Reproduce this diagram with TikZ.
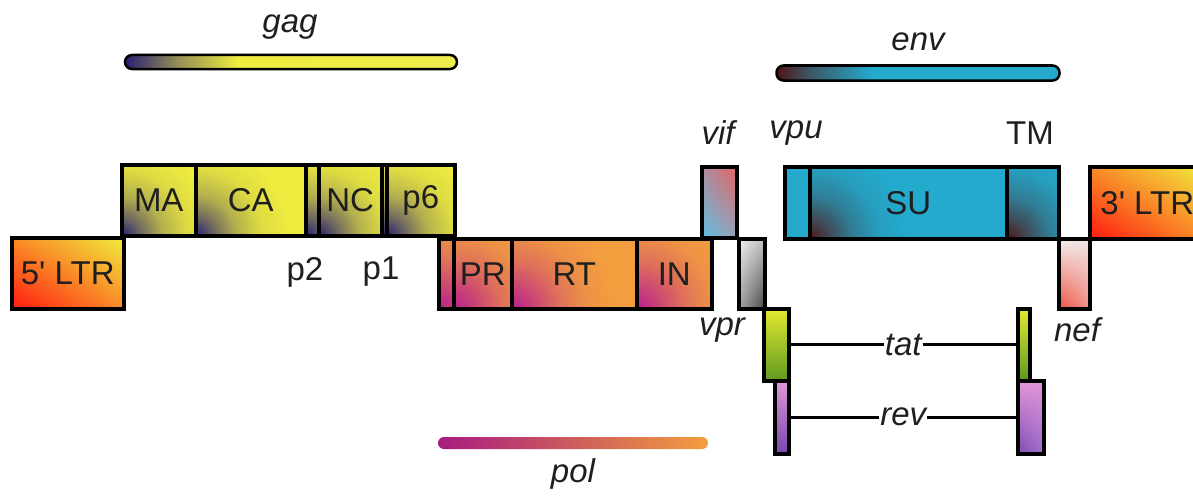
\documentclass[tikz,border=0pt]{standalone}
\usepackage{fontspec}
\usetikzlibrary{shadings}
\setmainfont{Liberation Sans}
\newfontfamily\labfont{Liberation Sans}
\definecolor{gagdark}{RGB}{40,30,115}
\definecolor{gagyel}{RGB}{238,236,62}
\definecolor{polmag}{RGB}{185,30,140}
\definecolor{polor}{RGB}{243,158,62}
\definecolor{envdark}{RGB}{80,20,20}
\definecolor{envcy}{RGB}{35,170,205}
\definecolor{ltrred}{RGB}{255,25,15}
\definecolor{ltror}{RGB}{250,140,40}
\definecolor{ltryel}{RGB}{240,235,60}
\pgfdeclarehorizontalshading{gagbarshade}{100bp}{color(0bp)=(gagdark); color(25bp)=(gagdark);
  color(33bp)=(gagyel!55!gagdark); color(42bp)=(gagyel); color(75bp)=(gagyel!92!white); color(100bp)=(gagyel!92!white)}
\pgfdeclarehorizontalshading{envbarshade}{100bp}{color(0bp)=(envdark); color(25bp)=(envdark);
  color(31bp)=(envdark!55!envcy); color(42bp)=(envcy); color(100bp)=(envcy)}
% soft corner glows for the protein domains
\pgfdeclareradialshading{gagglow}{\pgfpoint{0bp}{0bp}}{color(0bp)=(gagdark); color(1.8bp)=(gagyel!35!gagdark);
  color(4bp)=(gagyel!70!gagdark); color(6.6bp)=(gagyel!92!gagdark); color(9.4bp)=(gagyel); color(50bp)=(gagyel)}
\pgfdeclareradialshading{polglow}{\pgfpoint{0bp}{0bp}}{color(0bp)=(polmag); color(2.2bp)=(polor!30!polmag);
  color(4.8bp)=(polor!65!polmag); color(7.5bp)=(polor!90!polmag); color(10.4bp)=(polor); color(50bp)=(polor)}
\pgfdeclareradialshading{envglow}{\pgfpoint{0bp}{0bp}}{color(0bp)=(envdark); color(1.9bp)=(envcy!35!envdark);
  color(4.3bp)=(envcy!70!envdark); color(7bp)=(envcy!92!envdark); color(9.8bp)=(envcy); color(50bp)=(envcy)}
\begin{document}
\begin{tikzpicture}[x=1pt,y=-1pt,
  lfont/.style={font=\labfont\fontsize{33}{38}\selectfont},
  ifont/.style={font=\labfont\itshape\fontsize{33}{38}\selectfont},
  seg/.style={draw=black, line width=3.5pt, anchor=north west, inner sep=0pt, lfont, text=black!88},
  glow/.style 2 args={fill=#2, path picture={\shade[shading=#1]
      (path picture bounding box.south west) circle (250pt);}},
  gagseg/.style={seg, glow={gagglow}{gagyel}},
  polseg/.style={seg, glow={polglow}{polor}},
  envseg/.style={seg, glow={envglow}{envcy}},
  ltrseg/.style={seg, lower left=ltrred, upper left=ltror, upper right=ltryel, lower right=ltror},
  lab/.style={inner sep=1pt, lfont, text=black!88},
  conn/.style={draw=black, line width=3pt},
  bar/.style={inner sep=0pt, rounded corners=7pt}]
\clip (0,0) rectangle (1193,495);

% gene bars
\node[bar, draw=black, line width=2.5pt, minimum width=332pt, minimum height=14pt,
  shade, shading=gagbarshade] (gagbar) at (291,62) {};
\node[lab, ifont] (gaglab) at (290,27) {gag};
\node[bar, draw=black, line width=2.5pt, minimum width=283pt, minimum height=15pt,
  shade, shading=envbarshade] (envbar) at (918,73) {};
\node[lab, ifont] (envlab) at (918,42) {env};
\node[bar, rounded corners=6pt, minimum width=270pt, minimum height=12pt,
  left color=polmag!90!black, right color=polor] (polbar) at (573,443) {};
\node[lab, ifont] (pollab) at (573,474) {pol};

% LTRs
\node[ltrseg, minimum width=112pt, minimum height=71pt] (ltr5) at (10,236) {5\char"0027\ LTR};
\node[ltrseg, minimum width=115pt, minimum height=72pt] (ltr3) at (1088,165) {3\char"0027\ LTR};

% gag
\node[gagseg, minimum width=74pt,  minimum height=71pt] (MA) at (120,163) {MA};
\node[gagseg, minimum width=110pt, minimum height=71pt] (CA) at (194,163) {CA};
\node[gagseg, minimum width=13pt,  minimum height=71pt] (p2) at (304,163) {};
\node[gagseg, minimum width=63pt,  minimum height=71pt] (NC) at (317,163) {NC};
\node[gagseg, minimum width=5pt,   minimum height=71pt] (p1) at (380,163) {};
\node[gagseg, minimum width=68pt,  minimum height=71pt] (p6) at (385,163) {p6};

% pol
\node[polseg, minimum width=15pt,  minimum height=70pt] (pol0) at (437,237) {};
\node[polseg, minimum width=58pt,  minimum height=70pt] (PR) at (452,237) {PR};
\node[polseg, minimum width=125pt, minimum height=70pt] (RT) at (510,237) {RT};
\node[polseg, minimum width=75pt,  minimum height=70pt] (IN) at (635,237) {IN};

% accessory genes
\node[seg, minimum width=35pt, minimum height=71pt,
  upper right={rgb,255:red,228;green,100;blue,95}, lower left={rgb,255:red,95;green,190;blue,225},
  upper left={rgb,255:red,175;green,140;blue,160}, lower right={rgb,255:red,150;green,160;blue,185}] (vif) at (700,165) {};
\node[seg, minimum width=26pt, minimum height=70pt,
  upper left={rgb,255:red,238;green,238;blue,238}, lower right={rgb,255:red,70;green,70;blue,70},
  upper right={rgb,255:red,190;green,190;blue,190}, lower left={rgb,255:red,160;green,160;blue,160}] (vpr) at (737,237) {};
\draw[conn] (IN.north east) -- (vpr.north west);

\node[seg, minimum width=25pt, minimum height=72pt,
  upper left={rgb,255:red,228;green,232;blue,50}, upper right={rgb,255:red,228;green,232;blue,50},
  lower left={rgb,255:red,95;green,155;blue,30}, lower right={rgb,255:red,95;green,155;blue,30}] (tat1) at (762,307) {};
\node[seg, minimum width=12pt, minimum height=72pt,
  upper left={rgb,255:red,228;green,232;blue,50}, upper right={rgb,255:red,228;green,232;blue,50},
  lower left={rgb,255:red,95;green,155;blue,30}, lower right={rgb,255:red,95;green,155;blue,30}] (tat2) at (1016,307) {};
\node[seg, minimum width=14pt, minimum height=73pt,
  upper left={rgb,255:red,225;green,150;blue,215}, upper right={rgb,255:red,225;green,150;blue,215},
  lower left={rgb,255:red,120;green,70;blue,175}, lower right={rgb,255:red,120;green,70;blue,175}] (rev1) at (773,379) {};
\node[seg, minimum width=26pt, minimum height=73pt,
  upper left={rgb,255:red,225;green,150;blue,215}, upper right={rgb,255:red,225;green,150;blue,215},
  lower left={rgb,255:red,125;green,75;blue,180}, lower right={rgb,255:red,160;green,110;blue,200}] (rev2) at (1016,379) {};
\draw[conn] (tat1) -- node[lab, fill=white, ifont] (tatlab) {tat} (tat2);
\draw[conn] (rev1) -- node[lab, fill=white, ifont] (revlab) {rev} (rev2);

% env
\node[seg, minimum width=25pt, minimum height=72pt, fill=envcy] (vpu) at (783,165) {};
\node[envseg, minimum width=197pt, minimum height=72pt] (SU) at (808,165) {SU};
\node[envseg, minimum width=52pt, minimum height=72pt] (TM) at (1005,165) {};
\node[seg, minimum width=31pt, minimum height=70pt,
  upper left={rgb,255:red,245;green,240;blue,240}, upper right={rgb,255:red,240;green,228;blue,228},
  lower left={rgb,255:red,238;green,80;blue,65}, lower right={rgb,255:red,240;green,150;blue,140}] (nef) at (1057,237) {};

% gene names
\begin{scope}[every node/.style={lab}]
\node (p2lab) at (305,272) {p2};
\node (p1lab) at (381,272) {p1};
\node (TMlab) at (1030,133) {TM};
\node[ifont] (viflab) at (718,133) {vif};
\node[ifont] (vpulab) at (796,133) {vpu};
\node[ifont] (vprlab) at (722,330) {vpr};
\node[ifont] (neflab) at (1077,330) {nef};
\end{scope}
\end{tikzpicture}
\end{document}
